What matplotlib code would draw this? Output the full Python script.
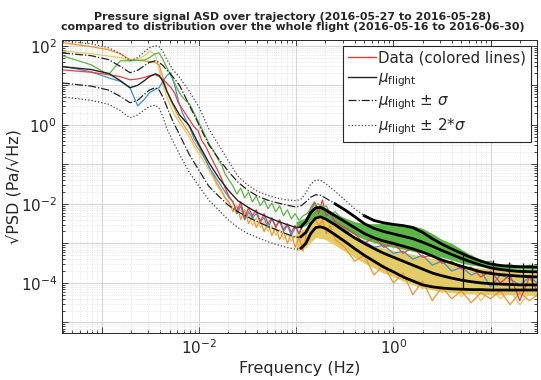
import numpy as np
import matplotlib
matplotlib.use('Agg')
import matplotlib.pyplot as plt
from matplotlib.lines import Line2D
from matplotlib.ticker import LogLocator, FuncFormatter, NullFormatter

# frequency grid of the flight statistics (log10 Hz)
stat_logf = [-3.41, -3.11, -2.93, -2.81, -2.71, -2.63, -2.56, -2.51, -2.45, -2.41,
             -2.37, -2.33, -2.27, -2.2, -2.1, -2.0, -1.9, -1.8, -1.7, -1.6, -1.5, -1.4,
             -1.3, -1.2, -1.1, -1.0, -0.95, -0.9, -0.85, -0.8, -0.75, -0.7, -0.6, -0.5,
             -0.4, -0.3, -0.2, -0.1, 0.0, 0.1, 0.2, 0.3, 0.4, 0.5, 0.6, 0.7, 0.8, 0.9,
             1.0, 1.1, 1.2, 1.3, 1.48]

# flight statistics, log10 of ASD (Pa/sqrt(Hz))
mu = [1.47, 1.40, 1.30, 1.12, 0.94, 1.00, 1.12, 1.22, 1.29, 1.25, 1.10, 0.85, 0.55, 0.25,
      -0.02, -0.50, -0.95, -1.33, -1.65, -1.92, -2.08, -2.22, -2.33, -2.43, -2.52, -2.60,
      -2.58, -2.45, -2.22, -2.10, -2.09, -2.15, -2.30, -2.45, -2.60, -2.75, -2.86, -2.94,
      -3.00, -3.07, -3.14, -3.22, -3.32, -3.42, -3.50, -3.58, -3.65, -3.72, -3.76, -3.79,
      -3.81, -3.83, -3.85]
mu_p1 = [1.82, 1.75, 1.65, 1.48, 1.32, 1.38, 1.50, 1.58, 1.62, 1.58, 1.50, 1.38, 1.22, 1.00,
         0.50, 0.00, -0.50, -0.85, -1.17, -1.45, -1.65, -1.80, -1.90, -1.97, -2.03, -2.08,
         -2.05, -1.95, -1.83, -1.77, -1.78, -1.85, -2.00, -2.15, -2.32, -2.50, -2.62, -2.70,
         -2.76, -2.82, -2.88, -2.97, -3.07, -3.18, -3.28, -3.38, -3.47, -3.55, -3.62, -3.66,
         -3.69, -3.71, -3.72]
mu_m1 = [1.06, 0.98, 0.88, 0.72, 0.56, 0.62, 0.78, 0.88, 0.94, 0.88, 0.70, 0.45, 0.10, -0.25,
         -0.75, -1.15, -1.55, -1.80, -2.03, -2.20, -2.33, -2.45, -2.56, -2.66, -2.76, -2.85,
         -2.83, -2.72, -2.50, -2.36, -2.33, -2.38, -2.53, -2.70, -2.86, -3.00, -3.13, -3.25,
         -3.35, -3.45, -3.55, -3.65, -3.75, -3.82, -3.88, -3.93, -3.97, -4.00, -4.02, -4.03,
         -4.04, -4.05, -4.05]
mu_p2 = [2.13, 2.05, 1.95, 1.80, 1.62, 1.70, 1.85, 1.95, 2.00, 1.98, 1.85, 1.65, 1.40, 1.20,
         0.85, 0.45, -0.10, -0.50, -0.90, -1.30, -1.52, -1.68, -1.78, -1.85, -1.90, -1.92,
         -1.88, -1.72, -1.50, -1.40, -1.40, -1.48, -1.68, -1.90, -2.12, -2.30, -2.42, -2.48,
         -2.52, -2.55, -2.60, -2.72, -2.88, -3.02, -3.14, -3.25, -3.36, -3.45, -3.52, -3.56,
         -3.58, -3.59, -3.60]
mu_m2 = [0.71, 0.62, 0.52, 0.36, 0.18, 0.25, 0.38, 0.46, 0.50, 0.42, 0.20, -0.10, -0.40, -0.75,
         -1.20, -1.55, -1.90, -2.15, -2.40, -2.60, -2.75, -2.85, -2.95, -3.03, -3.10, -3.15,
         -3.12, -3.00, -2.75, -2.60, -2.58, -2.62, -2.78, -2.95, -3.13, -3.30, -3.45, -3.60,
         -3.72, -3.85, -3.95, -4.05, -4.10, -4.13, -4.15, -4.16, -4.17, -4.17, -4.18, -4.18,
         -4.18, -4.18, -4.18]

# narrow peaks in the statistics at high frequency (log10 Hz, log10 range)
peak_logf = [0.72, 1.02, 1.19, 1.33, 1.43]
peak_top = [-3.25, -3.42, -3.48, -3.50, -3.50]
peak_bot = [-4.12, -4.16, -4.16, -4.16, -4.16]

# frequency grid of the trajectory spectra (log10 Hz)
data_logf = [-3.41, -3.11, -2.93, -2.81, -2.71, -2.63, -2.56, -2.51, -2.45, -2.41,
             -2.37, -2.33, -2.29, -2.25, -2.21, -2.17, -2.13, -2.09, -2.05, -2.01,
             -1.97, -1.93, -1.89, -1.85, -1.81, -1.77, -1.73, -1.69, -1.65, -1.61,
             -1.57, -1.53, -1.49, -1.45, -1.41, -1.37, -1.33, -1.29, -1.25, -1.21,
             -1.17, -1.13, -1.09, -1.05, -1.01, -0.97, -0.93, -0.89, -0.85, -0.81,
             -0.77, -0.73, -0.69, -0.65, -0.6, -0.5, -0.4, -0.3, -0.2, -0.1,
             0.0, 0.1, 0.2, 0.3, 0.4, 0.5, 0.6, 0.7, 0.8, 0.9,
             1.0, 1.1, 1.2, 1.3, 1.4, 1.48]

# trajectory spectra, log10 of ASD
asd_blue = [1.49, 1.34, 1.19, 1.10, 0.94, 0.48, 0.65, 0.81, 0.90, 0.94,
            1.10, 1.25, 1.32, 1.00, 0.60, 0.30, 0.10, -0.10, -0.35, -0.50,
            -0.70, -0.90, -1.10, -1.25, -1.40, -1.55, -1.70, -1.85, -1.95, -2.25,
            -2.05, -2.40, -2.20, -2.35, -2.25, -2.45, -2.35, -2.60, -2.40, -2.55,
            -2.45, -2.70, -2.55, -2.80, -2.60, -2.75, -2.55, -2.35, -2.20, -1.98,
            -2.15, -2.05, -2.30, -2.25, -2.50, -2.65, -2.85, -2.95, -3.10, -3.05,
            -3.25, -3.20, -3.40, -3.30, -3.55, -3.45, -3.70, -3.60, -3.80, -3.70,
            -4.10, -3.80, -3.90, -4.05, -3.85, -4.00]
asd_red = [1.39, 1.33, 1.27, 1.22, 1.14, 1.16, 1.20, 1.24, 1.27, 1.22,
           1.15, 1.05, 0.95, 0.80, 0.55, 0.40, 0.25, 0.10, -0.05, -0.15,
           -0.40, -0.55, -0.75, -0.95, -1.14, -1.35, -1.60, -1.82, -1.95, -2.20,
           -1.95, -2.35, -2.10, -2.30, -2.15, -2.45, -2.25, -2.50, -2.35, -2.60,
           -2.40, -2.65, -2.50, -2.72, -2.55, -2.75, -2.50, -2.40, -2.10, -1.95,
           -2.25, -1.90, -2.30, -2.20, -2.45, -2.60, -2.75, -3.00, -2.85, -3.10,
           -3.00, -3.25, -3.10, -3.35, -3.30, -3.50, -3.45, -3.65, -3.60, -3.85,
           -3.70, -4.00, -3.80, -4.45, -3.85, -4.20]
asd_orange = [2.08, 1.98, 1.90, 1.80, 1.65, 1.63, 1.62, 1.60, 1.58, 1.52,
              1.20, 0.85, 0.60, 0.40, 0.20, 0.05, -0.10, -0.25, -0.45, -0.60,
              -0.75, -0.90, -1.10, -1.30, -1.50, -1.65, -1.85, -1.95, -2.20, -2.05,
              -2.40, -2.15, -2.50, -2.30, -2.60, -2.40, -2.70, -2.50, -2.80, -2.60,
              -2.90, -2.70, -3.00, -2.75, -3.10, -2.85, -3.20, -2.70, -2.50, -2.35,
              -2.55, -2.40, -2.75, -2.55, -2.90, -3.10, -3.45, -3.30, -3.80, -3.55,
              -4.00, -3.75, -4.30, -3.95, -4.45, -4.10, -4.40, -4.20, -4.50, -4.25,
              -4.40, -4.20, -4.55, -4.25, -4.45, -4.30]
asd_yellow = [1.87, 1.80, 1.74, 1.70, 1.62, 1.66, 1.75, 1.87, 1.78, 1.40,
              1.00, 0.70, 0.45, 0.25, 0.10, -0.05, -0.20, -0.35, -0.55, -0.70,
              -0.85, -1.00, -1.20, -1.35, -1.55, -1.70, -1.85, -2.00, -2.10, -2.25,
              -2.15, -2.40, -2.25, -2.55, -2.35, -2.60, -2.45, -2.70, -2.55, -2.80,
              -2.65, -2.90, -2.75, -2.95, -2.80, -3.05, -2.80, -2.65, -2.45, -2.35,
              -2.40, -2.50, -2.55, -2.70, -2.75, -3.00, -3.20, -3.40, -3.50, -3.75,
              -3.65, -3.95, -3.85, -4.15, -3.95, -4.25, -4.00, -4.35, -4.10, -4.45,
              -4.15, -4.40, -4.20, -4.55, -4.25, -4.35]
asd_green = [1.75, 1.52, 1.27, 1.62, 1.62, 1.63, 1.64, 1.70, 1.80, 1.82,
             1.65, 1.45, 1.25, 1.05, 0.85, 0.70, 0.60, 0.50, 0.30, 0.10,
             -0.10, -0.30, -0.50, -0.65, -0.85, -1.00, -1.25, -1.40, -1.55, -1.75,
             -1.60, -1.85, -1.70, -1.95, -1.80, -2.05, -1.90, -2.12, -1.98, -2.20,
             -2.05, -2.30, -2.15, -2.38, -2.25, -2.42, -2.30, -2.25, -2.12, -2.02,
             -2.00, -2.10, -2.05, -2.25, -2.20, -2.45, -2.50, -2.70, -2.55, -2.80,
             -2.55, -2.95, -2.62, -3.05, -2.80, -3.20, -3.05, -3.35, -3.30, -3.50,
             -3.45, -3.62, -3.52, -3.65, -3.55, -3.62]

# dense high frequency part of the spectra: envelopes (log10)
band_logf = [-1.0, -0.9, -0.8, -0.7, -0.6, -0.5, -0.4, -0.3, -0.2, -0.1, 0.0, 0.1,
             0.2, 0.3, 0.4, 0.5, 0.6, 0.7, 0.8, 0.9, 1.0, 1.2, 1.48]
green_hi = [-2.45, -2.35, -2.05, -2.10, -2.25, -2.35, -2.45, -2.50, -2.50, -2.50, -2.50, -2.52,
            -2.55, -2.62, -2.75, -2.90, -3.00, -3.15, -3.30, -3.40, -3.50, -3.55, -3.55]
green_lo = [-2.62, -2.55, -2.30, -2.35, -2.50, -2.65, -2.78, -2.90, -2.98, -3.05, -3.10, -3.15,
            -3.20, -3.25, -3.30, -3.35, -3.42, -3.50, -3.55, -3.58, -3.62, -3.65, -3.65]
yellow_hi = [-2.70, -2.62, -2.35, -2.40, -2.55, -2.70, -2.82, -2.95, -3.05, -3.12, -3.18, -3.22,
             -3.28, -3.32, -3.38, -3.42, -3.48, -3.55, -3.60, -3.62, -3.65, -3.66, -3.66]
yellow_lo = [-3.20, -3.10, -2.85, -2.90, -3.05, -3.20, -3.35, -3.50, -3.62, -3.75, -3.85, -3.95,
             -4.05, -4.12, -4.18, -4.22, -4.25, -4.27, -4.28, -4.28, -4.30, -4.30, -4.32]

c_blue = '#3d8fd6'
c_red = '#e8413c'
c_orange = '#f5922f'
c_yellow = '#e3cc66'
c_green = '#5cb547'
txt = '#262626'


def pw(vals):
    return 10.0 ** np.asarray(vals)


fig = plt.figure(figsize=(5.41, 3.80), dpi=100)
ax = fig.add_axes([0.1146, 0.1237, 0.878, 0.771])

fb = pw(band_logf)
ax.fill_between(fb, pw(green_lo), pw(green_hi), color=c_green, lw=0, zorder=1)
ax.fill_between(fb, pw(yellow_lo), pw(yellow_hi), color=c_yellow, lw=0, zorder=1.1)

fd = pw(data_logf)
for vals, col in [(asd_yellow, c_yellow), (asd_orange, c_orange), (asd_blue, c_blue),
                  (asd_red, c_red), (asd_green, c_green)]:
    ax.plot(fd, pw(vals), color=col, lw=0.9, zorder=2)

fs = pw(stat_logf)
gs = np.asarray(stat_logf)
ax.plot(fs, pw(mu), color='#222222', lw=1.0, zorder=3)
ax.plot(fs, pw(mu_p1), color='#222222', lw=0.9, ls='-.', zorder=3)
ax.plot(fs, pw(mu_m1), color='#222222', lw=0.9, ls='-.', zorder=3)
ax.plot(fs, pw(mu_p2), color='#444444', lw=0.9, ls=':', zorder=3)
ax.plot(fs, pw(mu_m2), color='#444444', lw=0.9, ls=':', zorder=3)

# at high frequency the statistic curves are drawn with dense samples -> thick black
for vals, start in [(mu, -0.95), (mu_m1, -0.95), (mu_m2, -0.95), (mu_p1, -0.6), (mu_p2, -0.3)]:
    sel = gs >= start
    ax.plot(fs[sel], pw(vals)[sel], color='k', lw=2.0, zorder=4)
ax.vlines(pw(peak_logf), pw(peak_bot), pw(peak_top), color='#111111', lw=0.9, zorder=4)

ax.set_xscale('log')
ax.set_yscale('log')
ax.set_xlim(3.9e-4, 30)
ax.set_ylim(5.4e-6, 1.4e2)


def even_decades(v, pos):
    e = int(np.round(np.log10(v)))
    return r'$10^{%d}$' % e if e % 2 == 0 else ''


for axis in [ax.xaxis, ax.yaxis]:
    axis.set_major_locator(LogLocator(base=10, numticks=20))
    axis.set_minor_locator(LogLocator(base=10, subs=np.arange(2, 10), numticks=20))
    axis.set_major_formatter(FuncFormatter(even_decades))
    axis.set_minor_formatter(NullFormatter())

ax.tick_params(which='both', direction='in', top=True, right=True, colors=txt,
               labelsize=11, width=0.6)
ax.tick_params(which='major', length=4)
ax.tick_params(which='minor', length=2)
ax.grid(which='major', color='#d4d4d4', lw=0.7, ls='-')
ax.grid(which='minor', color='#d8d8d8', lw=0.5, ls=':')
ax.set_axisbelow(True)
for sp in ax.spines.values():
    sp.set_color(txt)
    sp.set_linewidth(0.7)

ax.set_xlabel('Frequency (Hz)', fontsize=11.5, color=txt, labelpad=3)
ax.set_ylabel('\u221aPSD (Pa/\u221aHz)', fontsize=11.5, color=txt, labelpad=-1)
ax.set_title('Pressure signal ASD over trajectory (2016-05-27 to 2016-05-28)\n'
             'compared to distribution over the whole flight (2016-05-16 to 2016-06-30)',
             fontsize=7.9, fontweight='bold', color=txt, pad=7, linespacing=1.05, x=0.485)

handles = [Line2D([], [], color=c_red, lw=1.0),
           Line2D([], [], color='#222222', lw=1.0),
           Line2D([], [], color='#222222', lw=0.9, ls='-.'),
           Line2D([], [], color='#444444', lw=0.9, ls=':')]
labels = ['Data (colored lines)',
          r'$\mu_{\mathrm{flight}}$',
          r'$\mu_{\mathrm{flight}}$ $\pm$ $\sigma$',
          r'$\mu_{\mathrm{flight}}$ $\pm$ 2*$\sigma$']
leg = ax.legend(handles, labels, loc='upper right', fontsize=10.8, frameon=True,
                fancybox=False, framealpha=1, edgecolor=txt, handlelength=1.9,
                handletextpad=0.15, labelspacing=0.3, borderpad=0.3,
                borderaxespad=0.4)
leg.get_frame().set_linewidth(0.8)
for t in leg.get_texts():
    t.set_color(txt)

fig.savefig('out.png', dpi=100)
